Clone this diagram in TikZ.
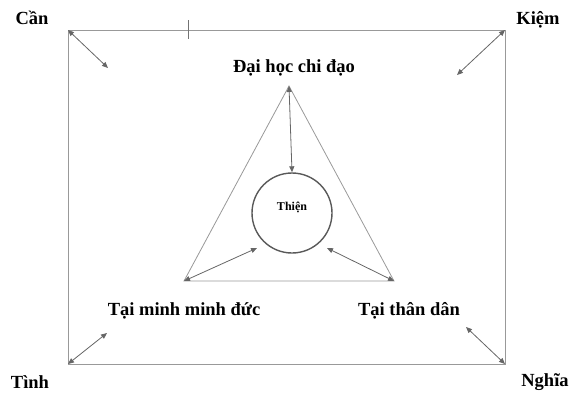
\documentclass[tikz,border=0pt]{standalone}
\usepackage{fontspec}
\setmainfont{Liberation Serif}
\usetikzlibrary{arrows.meta,positioning,calc}

\begin{document}
\begin{tikzpicture}[
  x=1pt,y=-1pt,
  frame/.style={draw=black!40,line width=1pt},
  word/.style={font=\bfseries\fontsize{18.5}{20}\selectfont,inner sep=1pt},
  arrow/.style={{Triangle[length=6pt,width=5pt]}-{Triangle[length=6pt,width=5pt]},draw=black!45,line width=0.8pt,color=black!60}
]
\useasboundingbox (0,0) rectangle (578,392);

% Outer frame corners
\coordinate (tl) at (68,30);
\coordinate (tr) at (505,30);
\coordinate (bl) at (68,364);
\coordinate (br) at (505,364);
\draw[frame] (tl) -- (tr) -- (br) -- (bl) -- cycle;
\draw[black!55,line width=0.8pt] (188,20) -- (188,39);

% Corner labels
\node[word] (can) at (32,18) {Cần};
\node[word] (kiem) at (538,20) {Kiệm};
\node[word] (tinh) at (30,382) {Tình};
\node[word] (nghia) at (545,382) {Nghĩa};

% Corner arrows
\coordinate (tlin) at (108,68);
\coordinate (trin) at (457,75);
\coordinate (blin) at (107,333);
\coordinate (brin) at (466,327);
\draw[arrow] (tl) -- (tlin);
\draw[arrow] (tr) -- (trin);
\draw[arrow] (bl) -- (blin);
\draw[arrow] (brin) -- (br);

% Triangle
\coordinate (apex) at (289,86);
\coordinate (left) at (184,281);
\coordinate (right) at (394,281);
\draw[frame,line width=0.8pt] (apex) -- (left) -- (right) -- cycle;

\node[word] (daihoc) at (294,68) {Đại học chi đạo};
\node[word] (taiminh) at (184,311) {Tại minh minh đức};
\node[word] (taithan) at (409,311) {Tại thân dân};

% Centre circle
\node[circle,draw=black!65,line width=1.4pt,minimum size=80pt,inner sep=0pt] (thien) at (292,213) {};
\node[font=\bfseries\fontsize{12}{14}\selectfont] (thienlbl) at (292,207) {Thiện};

% Arrows towards the circle
\coordinate (lin) at (257,248);
\coordinate (rin) at (327,248);
\draw[arrow] (apex) -- (thien.north);
\draw[arrow] (left) -- (lin);
\draw[arrow] (right) -- (rin);

\end{tikzpicture}
\end{document}
